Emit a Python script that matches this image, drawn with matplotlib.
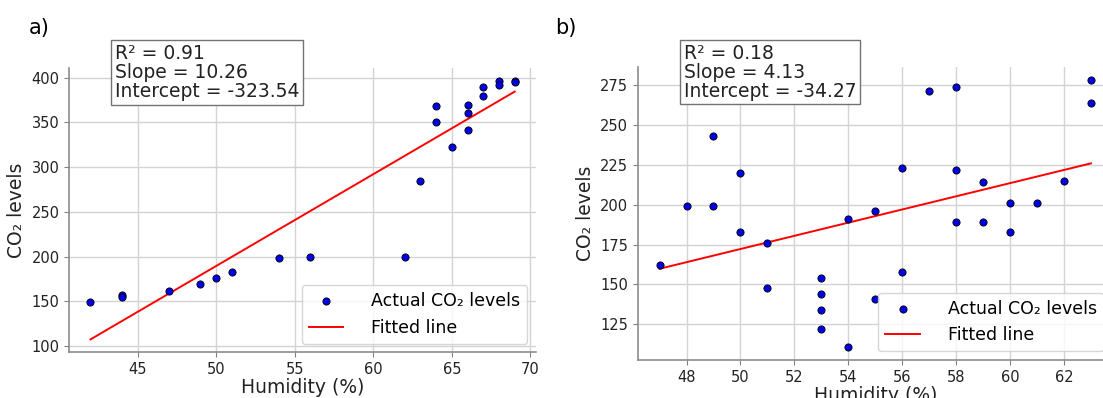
import matplotlib
matplotlib.use("Agg")
import matplotlib.pyplot as plt
import numpy as np

# ---- Data: panel a ----
hum_a = [42, 44, 44, 47, 49, 50, 51, 54, 56, 62, 63, 64, 64, 65, 66, 66, 66, 67, 67, 68, 68, 69, 69]
co2_a = [149, 157, 155, 162, 169, 176, 183, 198, 199, 200, 284, 368, 350, 323, 369, 360, 342, 389, 380, 396, 392, 396, 395]
r2_a = 0.91
slope_a = 10.26
intercept_a = -323.54
xticks_a = [45, 50, 55, 60, 65, 70]
yticks_a = [100, 150, 200, 250, 300, 350, 400]

# ---- Data: panel b ----
hum_b = [47, 48, 49, 49, 50, 50, 51, 51, 53, 53, 53, 53, 54, 54, 55, 55, 56, 56, 57, 58, 58, 58, 59, 59, 60, 60, 61, 62, 63, 63]
co2_b = [162, 199, 243, 199, 220, 183, 176, 148, 154, 144, 134, 122, 191, 111, 196, 141, 223, 158, 271, 274, 222, 189, 214, 189, 201, 183, 201, 215, 278, 264]
r2_b = 0.18
slope_b = 4.13
intercept_b = -34.27
xticks_b = [48, 50, 52, 54, 56, 58, 60, 62]
yticks_b = [125, 150, 175, 200, 225, 250, 275]

panel_labels = ["a)", "b)"]

fig = plt.figure(figsize=(11.03, 3.98), dpi=100)

TICK_FS = 10.5
LABEL_FS = 13.5
BOX_FS = 13.5
LEG_FS = 12.5


def draw(ax, x, y, r2, slope, intercept, xticks, yticks, box_x, box_y):
    x = np.asarray(x, dtype=float)
    y = np.asarray(y, dtype=float)
    ax.set_axisbelow(True)
    ax.grid(True, color="#d3d3d3", linewidth=1.0)
    ax.scatter(x, y, s=27, color="#0000e6", edgecolors="black", linewidths=0.6,
               label="Actual CO\u2082 levels", zorder=3)
    xl = np.array([x.min(), x.max()])
    ax.plot(xl, slope * xl + intercept, color="red", linewidth=1.4,
            label="Fitted line", zorder=2)
    ax.set_xticks(xticks)
    ax.set_yticks(yticks)
    ax.tick_params(labelsize=TICK_FS, color="0.5", labelcolor="#222222", length=3.5)
    for s in ["top", "right"]:
        ax.spines[s].set_visible(False)
    for s in ["left", "bottom"]:
        ax.spines[s].set_color("0.55")
        ax.spines[s].set_linewidth(1.2)
    ax.set_xlabel("Humidity (%)", fontsize=LABEL_FS, labelpad=1, color="#222222")
    ax.set_ylabel("CO\u2082 levels", fontsize=LABEL_FS, color="#222222")
    ax.legend(loc="lower right", fontsize=LEG_FS, handletextpad=1.6)
    txt = f"R\u00b2 = {r2:.2f}\nSlope = {slope:.2f}\nIntercept = {intercept:.2f}"
    ax.text(box_x, box_y, txt, transform=ax.transAxes, fontsize=BOX_FS,
            va="top", ha="left", linespacing=1.0, color="#222222",
            bbox=dict(boxstyle="square,pad=0.2", facecolor="white", edgecolor="0.45"),
            zorder=5, clip_on=False)


ax1 = fig.add_axes([0.0628, 0.1148, 0.4231, 0.7136])
draw(ax1, hum_a, co2_a, r2_a, slope_a, intercept_a, xticks_a, yticks_a, 0.098, 1.085)

ax2 = fig.add_axes([0.5784, 0.0955, 0.4302, 0.7362])
draw(ax2, hum_b, co2_b, r2_b, slope_b, intercept_b, xticks_b, yticks_b, 0.096, 1.08)

fig.text(0.026, 0.955, panel_labels[0], fontsize=15, va="top", ha="left")
fig.text(0.503, 0.955, panel_labels[1], fontsize=15, va="top", ha="left")

fig.savefig("out.png", dpi=100)
